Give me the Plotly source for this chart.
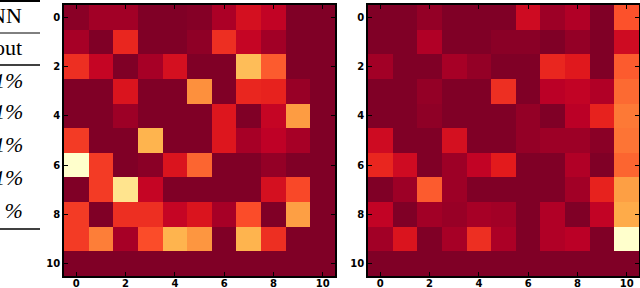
import plotly.graph_objects as go

# grid indices (0..10 on both axes)
cells = list(range(11))
tick_vals = [0, 2, 4, 6, 8, 10]

# left panel, rows 0..10 (top to bottom), columns 0..10
left_values = [
    [0.02, 0.07, 0.07, 0.00, 0.00, 0.01, 0.09, 0.20, 0.14, 0.00, 0.00],
    [0.08, 0.00, 0.28, 0.00, 0.00, 0.03, 0.30, 0.15, 0.07, 0.00, 0.00],
    [0.30, 0.15, 0.00, 0.08, 0.20, 0.00, 0.00, 0.66, 0.40, 0.00, 0.00],
    [0.00, 0.00, 0.22, 0.00, 0.00, 0.51, 0.00, 0.28, 0.27, 0.05, 0.00],
    [0.00, 0.00, 0.06, 0.00, 0.00, 0.00, 0.23, 0.00, 0.15, 0.55, 0.00],
    [0.33, 0.00, 0.00, 0.63, 0.00, 0.00, 0.23, 0.08, 0.13, 0.08, 0.00],
    [1.00, 0.33, 0.00, 0.02, 0.22, 0.42, 0.00, 0.00, 0.04, 0.00, 0.00],
    [0.00, 0.33, 0.82, 0.15, 0.00, 0.00, 0.00, 0.00, 0.20, 0.36, 0.00],
    [0.33, 0.00, 0.30, 0.30, 0.15, 0.22, 0.08, 0.37, 0.00, 0.56, 0.00],
    [0.33, 0.47, 0.08, 0.37, 0.63, 0.53, 0.00, 0.63, 0.30, 0.00, 0.00],
    [0.00, 0.00, 0.00, 0.00, 0.00, 0.00, 0.00, 0.00, 0.00, 0.00, 0.00],
]

# right panel
right_values = [
    [0.00, 0.00, 0.04, 0.00, 0.00, 0.00, 0.18, 0.06, 0.10, 0.00, 0.38],
    [0.00, 0.00, 0.10, 0.00, 0.00, 0.02, 0.02, 0.00, 0.04, 0.00, 0.18],
    [0.07, 0.00, 0.00, 0.08, 0.04, 0.00, 0.00, 0.28, 0.24, 0.00, 0.40],
    [0.00, 0.00, 0.04, 0.00, 0.00, 0.30, 0.00, 0.12, 0.14, 0.10, 0.43],
    [0.00, 0.00, 0.03, 0.00, 0.00, 0.00, 0.04, 0.00, 0.12, 0.27, 0.46],
    [0.18, 0.00, 0.00, 0.20, 0.00, 0.00, 0.04, 0.06, 0.06, 0.02, 0.45],
    [0.28, 0.18, 0.00, 0.06, 0.14, 0.25, 0.00, 0.00, 0.10, 0.00, 0.42],
    [0.00, 0.06, 0.40, 0.06, 0.00, 0.00, 0.00, 0.00, 0.07, 0.27, 0.56],
    [0.14, 0.00, 0.07, 0.05, 0.08, 0.07, 0.00, 0.10, 0.00, 0.14, 0.60],
    [0.07, 0.22, 0.00, 0.08, 0.30, 0.09, 0.00, 0.10, 0.12, 0.00, 1.00],
    [0.00, 0.00, 0.00, 0.00, 0.00, 0.00, 0.00, 0.00, 0.00, 0.00, 0.00],
]

# partially visible table on the left edge
table_header = ["NN", "out"]
table_rows = ["1%", "1%", "1%", "1%", "1 %"]

colors = ["#800026", "#bd0026", "#e31a1c", "#fc4e2a", "#fd8d3c",
          "#feb24c", "#fed976", "#ffeda0", "#ffffcc"]
colorscale = [[i / (len(colors) - 1), c] for i, c in enumerate(colors)]

W, H = 640, 288
fig = go.Figure()
fig.add_trace(go.Heatmap(z=left_values, x=cells, y=cells, colorscale=colorscale,
                         zmin=0, zmax=1, showscale=False, xaxis="x", yaxis="y"))
fig.add_trace(go.Heatmap(z=right_values, x=cells, y=cells, colorscale=colorscale,
                         zmin=0, zmax=1, showscale=False, xaxis="x2", yaxis="y2"))

ydom = [1 - 276 / H, 1 - 5 / H]
axis_common = dict(range=[-0.5, 10.5], tickvals=tick_vals, ticks="inside", ticklen=4,
                   tickwidth=1, tickcolor="black", showline=True, linecolor="black",
                   linewidth=1.5, mirror="ticks", showgrid=False, zeroline=False,
                   automargin=False,
                   tickfont=dict(family="DejaVu Sans", size=10, color="black", weight="bold"))
xaxis_extra = dict(ticklabelstandoff=-3)
fig.update_layout(
    width=W, height=H, margin=dict(l=0, r=0, t=0, b=0, autoexpand=False),
    paper_bgcolor="white", plot_bgcolor="white",
    xaxis=dict(domain=[64 / W, 335 / W], anchor="y", **axis_common, **xaxis_extra),
    yaxis=dict(domain=ydom, anchor="x", **{**axis_common, "range": [10.5, -0.5]}),
    xaxis2=dict(domain=[368 / W, 639 / W], anchor="y2", **axis_common, **xaxis_extra),
    yaxis2=dict(domain=ydom, anchor="x2", **{**axis_common, "range": [10.5, -0.5]}),
)

# table rules
for yy, w in [(1, 2), (33, 1), (65, 1.5), (229, 1.5)]:
    fig.add_shape(type="line", xref="paper", yref="paper", x0=-0.01, x1=40 / W,
                  y0=1 - yy / H, y1=1 - yy / H, line=dict(color="black", width=w))

serif = "Liberation Serif"
for txt, yy in zip(table_header, [15, 48]):
    fig.add_annotation(text=txt, xref="paper", yref="paper", x=24 / W, y=1 - yy / H,
                       xanchor="right", yanchor="middle", showarrow=False,
                       font=dict(family=serif, size=22, color="black"))
for txt, yy in zip(table_rows, [80, 112, 144, 177, 210]):
    fig.add_annotation(text="<i>" + txt + "</i>", xref="paper", yref="paper", x=25 / W,
                       y=1 - yy / H, xanchor="right", yanchor="middle", showarrow=False,
                       font=dict(family=serif, size=22, color="black"))

fig.write_html("out.html", config={"displayModeBar": False},
               post_script="document.body.style.margin='0';document.body.style.padding='0';")
